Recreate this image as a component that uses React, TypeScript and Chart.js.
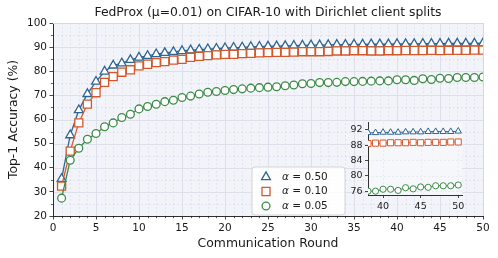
import React, { useEffect, useRef } from 'react';
import { Chart, registerables } from 'chart.js';
Chart.register(...registerables);

const rounds = [1, 2, 3, 4, 5, 6, 7, 8, 9, 10, 11, 12, 13, 14, 15, 16, 17, 18, 19, 20, 21, 22, 23, 24, 25, 26, 27, 28, 29, 30, 31, 32, 33, 34, 35, 36, 37, 38, 39, 40, 41, 42, 43, 44, 45, 46, 47, 48, 49, 50];
const alpha050 = [35.4, 53.5, 63.9, 70.6, 75.7, 79.9, 82.4, 83.3, 84.7, 85.7, 86.4, 87.1, 87.6, 88.0, 88.4, 88.7, 89.0, 89.2, 89.4, 89.6, 89.8, 89.9, 90.1, 90.2, 90.3, 90.4, 90.5, 90.6, 90.7, 90.8, 90.8, 90.9, 91.0, 91.0, 91.1, 91.1, 91.2, 91.2, 91.2, 91.3, 91.3, 91.3, 91.4, 91.4, 91.4, 91.5, 91.5, 91.5, 91.5, 91.6];
const alpha010 = [32.4, 46.9, 58.6, 66.4, 71.1, 75.4, 77.8, 79.6, 80.6, 82.2, 82.9, 83.6, 84.0, 84.6, 84.9, 85.8, 86.2, 86.5, 86.8, 87.0, 87.0, 87.3, 87.4, 87.6, 87.7, 87.8, 87.8, 87.9, 88.1, 88.1, 88.1, 88.2, 88.4, 88.4, 88.5, 88.5, 88.4, 88.4, 88.5, 88.5, 88.6, 88.6, 88.6, 88.7, 88.6, 88.7, 88.7, 88.7, 88.8, 88.8];
const alpha005 = [27.4, 43.1, 48.1, 51.8, 54.2, 57.0, 58.6, 60.8, 62.2, 64.4, 65.4, 66.3, 67.4, 68.0, 69.1, 69.7, 70.6, 71.3, 71.6, 72.0, 72.4, 72.7, 73.0, 73.2, 73.4, 73.6, 74.0, 74.3, 74.8, 74.9, 75.3, 75.3, 75.4, 75.7, 75.7, 75.8, 75.9, 76.0, 76.0, 76.5, 76.5, 76.2, 76.9, 76.6, 77.1, 77.0, 77.4, 77.4, 77.4, 77.6];
const alphaValues = ['0.50', '0.10', '0.05'];
const xMajorTicks = [0, 5, 10, 15, 20, 25, 30, 35, 40, 45, 50];
const yMajorTicks = [20, 30, 40, 50, 60, 70, 80, 90, 100];
const insetXTicks = [40, 45, 50];
const insetYTicks = [76, 80, 84, 88, 92];
const insetStartRound = 38;
const titleText = 'FedProx (\u03bc=0.01) on CIFAR-10 with Dirichlet client splits';
const xTitle = 'Communication Round';
const yTitle = 'Top-1 Accuracy (%)';

const SERIES = [alpha050, alpha010, alpha005];
const COLORS = ['#2f6592', '#d5582b', '#3d8b48'];
const STYLES = ['triangle', 'rect', 'circle'];
const MAIN_RADII = [5.1, 5.7, 3.9];
const INSET_RADII = [3.7, 4.3, 3.1];
const FONT = '"DejaVu Sans", sans-serif';
const INK = '#1a1a1a';

function points(ys: number[], start: number) {
  return rounds.map((r, i) => ({ x: r, y: ys[i] })).filter((p) => p.x >= start);
}

function drawMarker(ctx: CanvasRenderingContext2D, style: string, x: number, y: number, r: number, color: string, lw: number) {
  ctx.save();
  ctx.beginPath();
  if (style === 'triangle') {
    ctx.moveTo(x, y - r);
    ctx.lineTo(x + r * Math.sin((2 * Math.PI) / 3), y + r / 2);
    ctx.lineTo(x - r * Math.sin((2 * Math.PI) / 3), y + r / 2);
    ctx.closePath();
  } else if (style === 'rect') {
    const s = Math.SQRT1_2 * r;
    ctx.rect(x - s, y - s, 2 * s, 2 * s);
  } else {
    ctx.arc(x, y, r, 0, Math.PI * 2);
  }
  ctx.fillStyle = '#fff';
  ctx.fill();
  ctx.lineWidth = lw;
  ctx.strokeStyle = color;
  ctx.stroke();
  ctx.restore();
}

const mainDecor = {
  id: 'mainDecor',
  beforeDraw(chart: any) {
    const { ctx, chartArea: a, scales } = chart;
    const x = scales.x;
    const y = scales.y;
    ctx.save();
    ctx.fillStyle = '#ffffff';
    ctx.fillRect(0, 0, chart.width, chart.height);
    ctx.fillStyle = '#f3f4f9';
    ctx.fillRect(a.left, a.top, a.right - a.left, a.bottom - a.top);
    ctx.setLineDash([2, 2]);
    ctx.strokeStyle = 'rgba(205,212,228,0.8)';
    ctx.lineWidth = 0.6;
    for (let v = x.min; v <= x.max; v += 1) {
      if (v % 5 === 0) continue;
      const px = Math.round(x.getPixelForValue(v)) + 0.5;
      ctx.beginPath(); ctx.moveTo(px, a.top); ctx.lineTo(px, a.bottom); ctx.stroke();
    }
    for (let v = y.min; v <= y.max; v += 5) {
      if (v % 10 === 0) continue;
      const py = Math.round(y.getPixelForValue(v)) + 0.5;
      ctx.beginPath(); ctx.moveTo(a.left, py); ctx.lineTo(a.right, py); ctx.stroke();
    }
    ctx.setLineDash([]);
    ctx.strokeStyle = '#dbe0eb';
    ctx.lineWidth = 1;
    xMajorTicks.forEach((v) => {
      const px = Math.round(x.getPixelForValue(v)) + 0.5;
      ctx.beginPath(); ctx.moveTo(px, a.top); ctx.lineTo(px, a.bottom); ctx.stroke();
    });
    yMajorTicks.forEach((v) => {
      const py = Math.round(y.getPixelForValue(v)) + 0.5;
      ctx.beginPath(); ctx.moveTo(a.left, py); ctx.lineTo(a.right, py); ctx.stroke();
    });
    ctx.restore();
  },
  afterDraw(chart: any) {
    const { ctx, chartArea: a, scales } = chart;
    const x = scales.x;
    const y = scales.y;
    ctx.save();
    ctx.strokeStyle = '#d3d8e3';
    ctx.lineWidth = 1;
    ctx.beginPath();
    ctx.moveTo(a.left, a.top + 0.5); ctx.lineTo(a.right + 0.5, a.top + 0.5); ctx.lineTo(a.right + 0.5, a.bottom);
    ctx.stroke();
    ctx.strokeStyle = INK;
    ctx.lineWidth = 0.7;
    for (let v = x.min; v <= x.max; v += 1) {
      if (v % 5 === 0) continue;
      const px = Math.round(x.getPixelForValue(v)) + 0.5;
      ctx.beginPath(); ctx.moveTo(px, a.bottom); ctx.lineTo(px, a.bottom + 2.2); ctx.stroke();
    }
    for (let v = y.min; v <= y.max; v += 5) {
      if (v % 10 === 0) continue;
      const py = Math.round(y.getPixelForValue(v)) + 0.5;
      ctx.beginPath(); ctx.moveTo(a.left, py); ctx.lineTo(a.left - 2.2, py); ctx.stroke();
    }
    ctx.fillStyle = INK;
    ctx.textAlign = 'center';
    ctx.textBaseline = 'middle';
    ctx.font = `12.4px ${FONT}`;
    ctx.fillText(titleText, (a.left + a.right) / 2, 12.5);
    ctx.fillText(xTitle, (a.left + a.right) / 2, 243.5);
    ctx.save();
    ctx.translate(13.5, (a.top + a.bottom) / 2);
    ctx.rotate(-Math.PI / 2);
    ctx.fillText(yTitle, 0, 0);
    ctx.restore();
    const lx = 252, ly = 167, lw = 93, lh = 48;
    ctx.beginPath();
    const rr = 3;
    ctx.moveTo(lx + rr, ly);
    ctx.arcTo(lx + lw, ly, lx + lw, ly + lh, rr);
    ctx.arcTo(lx + lw, ly + lh, lx, ly + lh, rr);
    ctx.arcTo(lx, ly + lh, lx, ly, rr);
    ctx.arcTo(lx, ly, lx + lw, ly, rr);
    ctx.closePath();
    ctx.fillStyle = 'rgba(255,255,255,0.85)';
    ctx.fill();
    ctx.strokeStyle = '#d4d4d4';
    ctx.lineWidth = 1;
    ctx.stroke();
    alphaValues.forEach((val, i) => {
      const cy = ly + 10 + i * 14.5;
      drawMarker(ctx, STYLES[i], 266, cy, MAIN_RADII[i], COLORS[i], 1.3);
      ctx.fillStyle = INK;
      ctx.textAlign = 'left';
      ctx.textBaseline = 'middle';
      ctx.font = `italic 10.5px ${FONT}`;
      ctx.fillText('\u03b1', 282, cy);
      const w = ctx.measureText('\u03b1').width;
      ctx.font = `10.5px ${FONT}`;
      ctx.fillText(' = ' + val, 282 + w, cy);
    });
    ctx.restore();
  },
};

const insetDecor = {
  id: 'insetDecor',
  beforeDraw(chart: any) {
    const { ctx, chartArea: a, scales } = chart;
    ctx.save();
    ctx.fillStyle = '#f6f7fb';
    ctx.fillRect(a.left, a.top, a.right - a.left, a.bottom - a.top);
    ctx.strokeStyle = 'rgba(215,220,232,0.7)';
    ctx.lineWidth = 0.6;
    ctx.setLineDash([2, 2]);
    insetXTicks.forEach((v) => {
      const px = Math.round(scales.x.getPixelForValue(v)) + 0.5;
      ctx.beginPath(); ctx.moveTo(px, a.top); ctx.lineTo(px, a.bottom); ctx.stroke();
    });
    insetYTicks.forEach((v) => {
      const py = Math.round(scales.y.getPixelForValue(v)) + 0.5;
      ctx.beginPath(); ctx.moveTo(a.left, py); ctx.lineTo(a.right, py); ctx.stroke();
    });
    ctx.restore();
  },
};

function makeDatasets(start: number, radii: number[], lw: number) {
  return SERIES.map((ys, i) => ({
    label: '\u03b1 = ' + alphaValues[i],
    data: points(ys, start),
    borderColor: COLORS[i],
    borderWidth: lw,
    pointStyle: STYLES[i],
    pointRadius: radii[i],
    pointHoverRadius: radii[i],
    pointBackgroundColor: '#ffffff',
    pointBorderColor: COLORS[i],
    pointBorderWidth: lw,
    tension: 0,
    fill: false,
    clip: 0,
    order: SERIES.length - i,
  }));
}

function axis(min: number, max: number, tickVals: number[], fontSize: number, size: number, isX: boolean, tickLen: number) {
  return {
    type: 'linear' as const,
    min,
    max,
    afterBuildTicks: (s: any) => { s.ticks = tickVals.map((v) => ({ value: v })); },
    afterFit: (s: any) => { if (isX) s.height = size; else s.width = size; },
    ticks: { font: { family: FONT, size: fontSize }, color: INK, padding: 2.5, maxRotation: 0, autoSkip: false },
    grid: { drawOnChartArea: false, drawTicks: true, tickLength: tickLen, tickColor: INK, tickWidth: 0.8 },
    border: { display: true, color: INK, width: 0.9 },
  };
}

export default function App() {
  const mainRef = useRef<HTMLCanvasElement>(null);
  const insetRef = useRef<HTMLCanvasElement>(null);
  useEffect(() => {
    const main = new Chart(mainRef.current!, {
      type: 'line',
      data: { datasets: makeDatasets(1, MAIN_RADII, 1.3) as any },
      options: {
        animation: false,
        responsive: false,
        devicePixelRatio: 1,
        events: [],
        layout: { padding: { top: 23, right: 15, left: 0, bottom: 0 } },
        plugins: { legend: { display: false }, title: { display: false }, tooltip: { enabled: false } },
        scales: {
          x: axis(0, 50, xMajorTicks, 10.5, 42, true, 3.5),
          y: axis(20, 100, yMajorTicks, 10.5, 53, false, 3.5),
        },
      },
      plugins: [mainDecor],
    });
    const inset = new Chart(insetRef.current!, {
      type: 'line',
      data: { datasets: makeDatasets(insetStartRound, INSET_RADII, 1) as any },
      options: {
        animation: false,
        responsive: false,
        devicePixelRatio: 1,
        events: [],
        layout: { padding: { top: 10, right: 6, left: 0, bottom: 0 } },
        plugins: { legend: { display: false }, title: { display: false }, tooltip: { enabled: false } },
        scales: {
          x: axis(insetStartRound, 50.5, insetXTicks, 9.5, 17, true, 3),
          y: axis(75, 94, insetYTicks, 9.5, 28, false, 3),
        },
      },
      plugins: [insetDecor],
    });
    return () => { main.destroy(); inset.destroy(); };
  }, []);
  return (
    <div style={{ position: 'fixed', left: 0, top: 0, width: 498, height: 258, background: '#fff', overflow: 'hidden' }}>
      <canvas ref={mainRef} width={498} height={258} style={{ position: 'absolute', left: 0, top: 0 }} />
      <canvas ref={insetRef} width={128} height={100} style={{ position: 'absolute', left: 340, top: 112 }} />
    </div>
  );
}
